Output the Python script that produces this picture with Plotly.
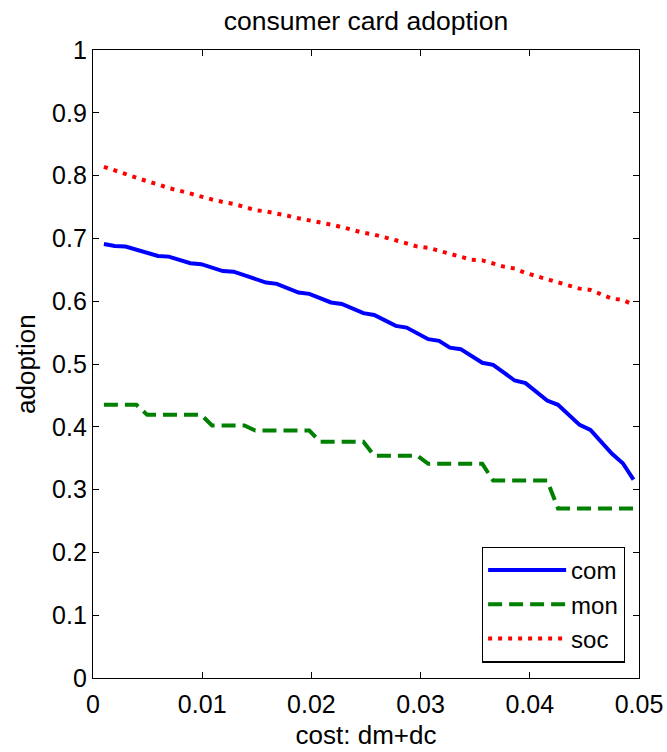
import plotly.graph_objects as go

# x grid (cost dm+dc)
cost = [0.00100, 0.00199, 0.00298, 0.00397, 0.00496, 0.00595, 0.00694, 0.00793, 0.00892, 0.00991,
        0.01090, 0.01189, 0.01288, 0.01387, 0.01486, 0.01585, 0.01684, 0.01783, 0.01882, 0.01981,
        0.02080, 0.02179, 0.02278, 0.02377, 0.02476, 0.02575, 0.02674, 0.02773, 0.02872, 0.02971,
        0.03070, 0.03169, 0.03268, 0.03367, 0.03466, 0.03565, 0.03664, 0.03763, 0.03862, 0.03961,
        0.04060, 0.04159, 0.04258, 0.04357, 0.04456, 0.04555, 0.04654, 0.04753, 0.04852, 0.04950]

com = [0.691, 0.688, 0.687, 0.682, 0.677, 0.672, 0.671, 0.666, 0.6605, 0.659,
       0.6535, 0.648, 0.647, 0.6412, 0.6355, 0.6297, 0.6276, 0.6207, 0.6137, 0.6117,
       0.6048, 0.598, 0.5957, 0.588, 0.581, 0.578, 0.5695, 0.5607, 0.558, 0.548,
       0.5395, 0.5368, 0.526, 0.5236, 0.513, 0.502, 0.4987, 0.486, 0.4737, 0.4695,
       0.4557, 0.4418, 0.435, 0.419, 0.403, 0.395, 0.376, 0.357, 0.342, 0.316]

mon = [0.435, 0.435, 0.435, 0.435, 0.419, 0.419, 0.419, 0.419, 0.419, 0.419,
       0.402, 0.402, 0.402, 0.402, 0.394, 0.394, 0.394, 0.394, 0.394, 0.394,
       0.376, 0.376, 0.376, 0.376, 0.376, 0.354, 0.354, 0.354, 0.354, 0.354,
       0.341, 0.341, 0.341, 0.341, 0.341, 0.341, 0.3145, 0.3145, 0.3145, 0.3145,
       0.3145, 0.3145, 0.270, 0.270, 0.270, 0.270, 0.270, 0.270, 0.270, 0.270]

soc = [0.814, 0.808, 0.802, 0.796, 0.791, 0.786, 0.780, 0.776, 0.771, 0.767,
       0.762, 0.758, 0.755, 0.750, 0.745, 0.743, 0.740, 0.736, 0.732, 0.729,
       0.726, 0.722, 0.718, 0.713, 0.709, 0.706, 0.702, 0.697, 0.692, 0.687,
       0.685, 0.680, 0.675, 0.670, 0.666, 0.665, 0.660, 0.655, 0.652, 0.645,
       0.640, 0.635, 0.631, 0.625, 0.620, 0.618, 0.611, 0.604, 0.602, 0.594]

x_ticks = [0, 0.01, 0.02, 0.03, 0.04, 0.05]
x_ticklabels = ["0", "0.01", "0.02", "0.03", "0.04", "0.05"]
y_ticks = [0, 0.1, 0.2, 0.3, 0.4, 0.5, 0.6, 0.7, 0.8, 0.9, 1]
y_ticklabels = ["0", "0.1", "0.2", "0.3", "0.4", "0.5", "0.6", "0.7", "0.8", "0.9", "1"]

FONT = "Liberation Sans, Arial, Helvetica, sans-serif"

fig = go.Figure()
fig.add_trace(go.Scatter(x=cost, y=com, name="com", mode="lines",
                         line=dict(color="#0000ff", width=4)))
fig.add_trace(go.Scatter(x=cost, y=mon, name="mon", mode="lines",
                         line=dict(color="#008000", width=4, dash="14px,7px")))
fig.add_trace(go.Scatter(x=cost, y=soc, name="soc", mode="lines",
                         line=dict(color="#ff0000", width=4, dash="4px,6px")))

axis_common = dict(showline=True, mirror="ticks", linecolor="black", linewidth=1.3,
                   ticks="inside", ticklen=6, tickwidth=1, tickcolor="black",
                   showgrid=False, zeroline=False, automargin=False,
                   tickfont=dict(family=FONT, size=25, color="black"))

fig.update_layout(
    width=667, height=752,
    margin=dict(l=93, r=28, t=50, b=74),
    paper_bgcolor="white", plot_bgcolor="white",
    font=dict(family=FONT, color="black"),
    title=dict(text="consumer card adoption", x=0.5, xref="paper", xanchor="center",
               y=1 - 21 / 752, yref="container", yanchor="middle",
               font=dict(family=FONT, size=26.5, color="black")),
    xaxis=dict(range=[0, 0.05], tickvals=x_ticks, ticktext=x_ticklabels,
               ticklabelstandoff=4,
               title=dict(text="cost: dm+dc", font=dict(family=FONT, size=26), standoff=8),
               **axis_common),
    yaxis=dict(range=[0, 1], tickvals=y_ticks, ticktext=y_ticklabels,
               **axis_common),
    annotations=[dict(text="adoption", textangle=-90, xref="paper", yref="paper",
                      x=(26 - 93) / 546, y=0.5, xanchor="center", yanchor="middle",
                      showarrow=False, font=dict(family=FONT, size=26, color="black"))],
    legend=dict(x=0.974, y=0.0244, xanchor="right", yanchor="bottom",
                bordercolor="black", borderwidth=1.3, bgcolor="white",
                font=dict(family=FONT, size=24, color="black"),
                itemwidth=78, tracegroupgap=0),
    showlegend=True,
)

fig.write_html("out.html")
